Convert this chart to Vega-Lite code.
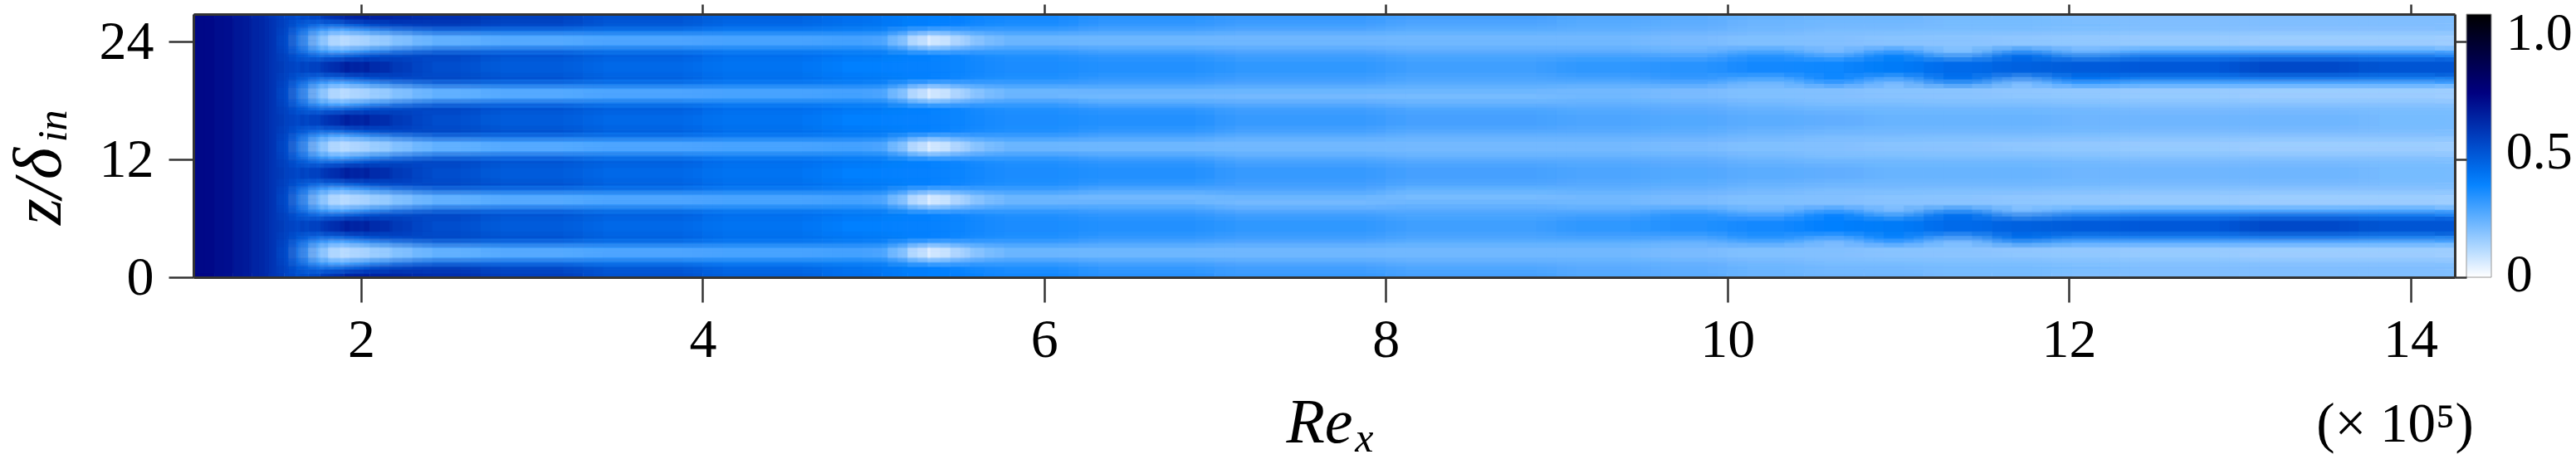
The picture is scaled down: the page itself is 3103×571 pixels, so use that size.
{"$schema":"https://vega.github.io/schema/vega-lite/v6.json","autosize":"none","width":2724,"height":317,"padding":{"left":233,"top":17,"right":146,"bottom":237},"background":"white","config":{"view":{"stroke":null},"axis":{"grid":false,"labelFont":"Liberation Serif","titleFont":"Liberation Serif","labelColor":"black","titleColor":"black","tickColor":"#333333","domainColor":"#333333","domainWidth":3,"tickWidth":2.5}},
"datasets":{
"cols":[{"c":0,"x0":1.018,"x1":1.14},{"c":1,"x0":1.14,"x1":1.25},{"c":2,"x0":1.25,"x1":1.36},{"c":3,"x0":1.36,"x1":1.46},{"c":4,"x0":1.46,"x1":1.55},{"c":5,"x0":1.55,"x1":1.62},{"c":6,"x0":1.62,"x1":1.69},{"c":7,"x0":1.69,"x1":1.76},{"c":8,"x0":1.76,"x1":1.9},{"c":9,"x0":1.9,"x1":2.05},{"c":10,"x0":2.05,"x1":2.3},{"c":11,"x0":2.3,"x1":2.7},{"c":12,"x0":2.7,"x1":3.3},{"c":13,"x0":3.3,"x1":4},{"c":14,"x0":4,"x1":4.7},{"c":15,"x0":4.7,"x1":5.05},{"c":16,"x0":5.05,"x1":5.2},{"c":17,"x0":5.2,"x1":5.45},{"c":18,"x0":5.45,"x1":5.65},{"c":19,"x0":5.65,"x1":6.2},{"c":20,"x0":6.2,"x1":7},{"c":21,"x0":7,"x1":8},{"c":22,"x0":8,"x1":9},{"c":23,"x0":9,"x1":9.55},{"c":24,"x0":9.55,"x1":10},{"c":25,"x0":10,"x1":10.45},{"c":26,"x0":10.45,"x1":10.8},{"c":27,"x0":10.8,"x1":11.15},{"c":28,"x0":11.15,"x1":11.55},{"c":29,"x0":11.55,"x1":11.9},{"c":30,"x0":11.9,"x1":12.3},{"c":31,"x0":12.3,"x1":13},{"c":32,"x0":13,"x1":13.7},{"c":33,"x0":13.7,"x1":14.26}],
"rows":[{"r":0,"z0":0,"z1":0.8},{"r":1,"z0":0.8,"z1":1.5},{"r":2,"z0":1.5,"z1":2.05},{"r":3,"z0":2.05,"z1":2.95},{"r":4,"z0":2.95,"z1":3.5},{"r":5,"z0":3.5,"z1":4.2},{"r":6,"z0":4.2,"z1":6.2},{"r":7,"z0":6.2,"z1":6.9},{"r":8,"z0":6.9,"z1":7.45},{"r":9,"z0":7.45,"z1":8.35},{"r":10,"z0":8.35,"z1":8.9},{"r":11,"z0":8.9,"z1":9.6},{"r":12,"z0":9.6,"z1":11.6},{"r":13,"z0":11.6,"z1":12.3},{"r":14,"z0":12.3,"z1":12.85},{"r":15,"z0":12.85,"z1":13.75},{"r":16,"z0":13.75,"z1":14.3},{"r":17,"z0":14.3,"z1":15},{"r":18,"z0":15,"z1":17},{"r":19,"z0":17,"z1":17.7},{"r":20,"z0":17.7,"z1":18.25},{"r":21,"z0":18.25,"z1":19.15},{"r":22,"z0":19.15,"z1":19.7},{"r":23,"z0":19.7,"z1":20.4},{"r":24,"z0":20.4,"z1":22.4},{"r":25,"z0":22.4,"z1":23.1},{"r":26,"z0":23.1,"z1":23.65},{"r":27,"z0":23.65,"z1":24.55},{"r":28,"z0":24.55,"z1":25.1},{"r":29,"z0":25.1,"z1":25.8},{"r":30,"z0":25.8,"z1":26.8},{"r":31,"z0":0,"z1":26.8}],
"cells":[{"c":0,"r":31,"v":0.69},{"c":1,"r":31,"v":0.66},{"c":2,"r":31,"v":0.63},{"c":3,"r":31,"v":0.6},{"c":4,"r":31,"v":0.55},{"c":5,"r":31,"v":0.5},
{"c":6,"r":0,"v":0.46},{"c":6,"r":1,"v":0.42},{"c":6,"r":2,"v":0.38},{"c":6,"r":3,"v":0.36},{"c":6,"r":4,"v":0.38},{"c":6,"r":5,"v":0.42},{"c":6,"r":6,"v":0.48},{"c":6,"r":7,"v":0.42},{"c":6,"r":8,"v":0.38},{"c":6,"r":9,"v":0.36},{"c":6,"r":10,"v":0.38},{"c":6,"r":11,"v":0.42},{"c":6,"r":12,"v":0.48},{"c":6,"r":13,"v":0.42},{"c":6,"r":14,"v":0.38},{"c":6,"r":15,"v":0.36},{"c":6,"r":16,"v":0.38},{"c":6,"r":17,"v":0.42},{"c":6,"r":18,"v":0.48},{"c":6,"r":19,"v":0.42},{"c":6,"r":20,"v":0.38},{"c":6,"r":21,"v":0.36},{"c":6,"r":22,"v":0.38},{"c":6,"r":23,"v":0.42},{"c":6,"r":24,"v":0.48},{"c":6,"r":25,"v":0.42},{"c":6,"r":26,"v":0.38},{"c":6,"r":27,"v":0.36},{"c":6,"r":28,"v":0.38},{"c":6,"r":29,"v":0.42},{"c":6,"r":30,"v":0.46},
{"c":7,"r":0,"v":0.48},{"c":7,"r":1,"v":0.34},{"c":7,"r":2,"v":0.2},{"c":7,"r":3,"v":0.14},{"c":7,"r":4,"v":0.2},{"c":7,"r":5,"v":0.34},{"c":7,"r":6,"v":0.5},{"c":7,"r":7,"v":0.34},{"c":7,"r":8,"v":0.2},{"c":7,"r":9,"v":0.14},{"c":7,"r":10,"v":0.2},{"c":7,"r":11,"v":0.34},{"c":7,"r":12,"v":0.5},{"c":7,"r":13,"v":0.34},{"c":7,"r":14,"v":0.2},{"c":7,"r":15,"v":0.14},{"c":7,"r":16,"v":0.2},{"c":7,"r":17,"v":0.34},{"c":7,"r":18,"v":0.5},{"c":7,"r":19,"v":0.34},{"c":7,"r":20,"v":0.2},{"c":7,"r":21,"v":0.14},{"c":7,"r":22,"v":0.2},{"c":7,"r":23,"v":0.34},{"c":7,"r":24,"v":0.5},{"c":7,"r":25,"v":0.34},{"c":7,"r":26,"v":0.2},{"c":7,"r":27,"v":0.14},{"c":7,"r":28,"v":0.2},{"c":7,"r":29,"v":0.34},{"c":7,"r":30,"v":0.48},
{"c":8,"r":0,"v":0.56},{"c":8,"r":1,"v":0.28},{"c":8,"r":2,"v":0.11},{"c":8,"r":3,"v":0.08},{"c":8,"r":4,"v":0.11},{"c":8,"r":5,"v":0.28},{"c":8,"r":6,"v":0.57},{"c":8,"r":7,"v":0.28},{"c":8,"r":8,"v":0.11},{"c":8,"r":9,"v":0.08},{"c":8,"r":10,"v":0.11},{"c":8,"r":11,"v":0.28},{"c":8,"r":12,"v":0.57},{"c":8,"r":13,"v":0.28},{"c":8,"r":14,"v":0.11},{"c":8,"r":15,"v":0.08},{"c":8,"r":16,"v":0.11},{"c":8,"r":17,"v":0.28},{"c":8,"r":18,"v":0.57},{"c":8,"r":19,"v":0.28},{"c":8,"r":20,"v":0.11},{"c":8,"r":21,"v":0.08},{"c":8,"r":22,"v":0.11},{"c":8,"r":23,"v":0.28},{"c":8,"r":24,"v":0.57},{"c":8,"r":25,"v":0.28},{"c":8,"r":26,"v":0.11},{"c":8,"r":27,"v":0.08},{"c":8,"r":28,"v":0.11},{"c":8,"r":29,"v":0.28},{"c":8,"r":30,"v":0.56},
{"c":9,"r":0,"v":0.62},{"c":9,"r":1,"v":0.36},{"c":9,"r":2,"v":0.13},{"c":9,"r":3,"v":0.09},{"c":9,"r":4,"v":0.13},{"c":9,"r":5,"v":0.36},{"c":9,"r":6,"v":0.63},{"c":9,"r":7,"v":0.36},{"c":9,"r":8,"v":0.13},{"c":9,"r":9,"v":0.09},{"c":9,"r":10,"v":0.13},{"c":9,"r":11,"v":0.36},{"c":9,"r":12,"v":0.63},{"c":9,"r":13,"v":0.36},{"c":9,"r":14,"v":0.13},{"c":9,"r":15,"v":0.09},{"c":9,"r":16,"v":0.13},{"c":9,"r":17,"v":0.36},{"c":9,"r":18,"v":0.63},{"c":9,"r":19,"v":0.36},{"c":9,"r":20,"v":0.13},{"c":9,"r":21,"v":0.09},{"c":9,"r":22,"v":0.13},{"c":9,"r":23,"v":0.36},{"c":9,"r":24,"v":0.63},{"c":9,"r":25,"v":0.36},{"c":9,"r":26,"v":0.13},{"c":9,"r":27,"v":0.09},{"c":9,"r":28,"v":0.13},{"c":9,"r":29,"v":0.36},{"c":9,"r":30,"v":0.62},
{"c":10,"r":0,"v":0.6},{"c":10,"r":1,"v":0.47},{"c":10,"r":2,"v":0.2},{"c":10,"r":3,"v":0.14},{"c":10,"r":4,"v":0.2},{"c":10,"r":5,"v":0.47},{"c":10,"r":6,"v":0.56},{"c":10,"r":7,"v":0.47},{"c":10,"r":8,"v":0.2},{"c":10,"r":9,"v":0.14},{"c":10,"r":10,"v":0.2},{"c":10,"r":11,"v":0.47},{"c":10,"r":12,"v":0.56},{"c":10,"r":13,"v":0.47},{"c":10,"r":14,"v":0.2},{"c":10,"r":15,"v":0.14},{"c":10,"r":16,"v":0.2},{"c":10,"r":17,"v":0.47},{"c":10,"r":18,"v":0.56},{"c":10,"r":19,"v":0.47},{"c":10,"r":20,"v":0.2},{"c":10,"r":21,"v":0.14},{"c":10,"r":22,"v":0.2},{"c":10,"r":23,"v":0.47},{"c":10,"r":24,"v":0.56},{"c":10,"r":25,"v":0.47},{"c":10,"r":26,"v":0.2},{"c":10,"r":27,"v":0.14},{"c":10,"r":28,"v":0.2},{"c":10,"r":29,"v":0.47},{"c":10,"r":30,"v":0.6},
{"c":11,"r":0,"v":0.57},{"c":11,"r":1,"v":0.52},{"c":11,"r":2,"v":0.28},{"c":11,"r":3,"v":0.19},{"c":11,"r":4,"v":0.28},{"c":11,"r":5,"v":0.52},{"c":11,"r":6,"v":0.49},{"c":11,"r":7,"v":0.52},{"c":11,"r":8,"v":0.28},{"c":11,"r":9,"v":0.19},{"c":11,"r":10,"v":0.28},{"c":11,"r":11,"v":0.52},{"c":11,"r":12,"v":0.49},{"c":11,"r":13,"v":0.52},{"c":11,"r":14,"v":0.28},{"c":11,"r":15,"v":0.19},{"c":11,"r":16,"v":0.28},{"c":11,"r":17,"v":0.52},{"c":11,"r":18,"v":0.49},{"c":11,"r":19,"v":0.52},{"c":11,"r":20,"v":0.28},{"c":11,"r":21,"v":0.19},{"c":11,"r":22,"v":0.28},{"c":11,"r":23,"v":0.52},{"c":11,"r":24,"v":0.49},{"c":11,"r":25,"v":0.52},{"c":11,"r":26,"v":0.28},{"c":11,"r":27,"v":0.19},{"c":11,"r":28,"v":0.28},{"c":11,"r":29,"v":0.52},{"c":11,"r":30,"v":0.57},
{"c":12,"r":0,"v":0.53},{"c":12,"r":1,"v":0.49},{"c":12,"r":2,"v":0.3},{"c":12,"r":3,"v":0.21},{"c":12,"r":4,"v":0.3},{"c":12,"r":5,"v":0.49},{"c":12,"r":6,"v":0.45},{"c":12,"r":7,"v":0.49},{"c":12,"r":8,"v":0.3},{"c":12,"r":9,"v":0.21},{"c":12,"r":10,"v":0.3},{"c":12,"r":11,"v":0.49},{"c":12,"r":12,"v":0.45},{"c":12,"r":13,"v":0.49},{"c":12,"r":14,"v":0.3},{"c":12,"r":15,"v":0.21},{"c":12,"r":16,"v":0.3},{"c":12,"r":17,"v":0.49},{"c":12,"r":18,"v":0.45},{"c":12,"r":19,"v":0.49},{"c":12,"r":20,"v":0.3},{"c":12,"r":21,"v":0.21},{"c":12,"r":22,"v":0.3},{"c":12,"r":23,"v":0.49},{"c":12,"r":24,"v":0.45},{"c":12,"r":25,"v":0.49},{"c":12,"r":26,"v":0.3},{"c":12,"r":27,"v":0.21},{"c":12,"r":28,"v":0.3},{"c":12,"r":29,"v":0.49},{"c":12,"r":30,"v":0.53},
{"c":13,"r":0,"v":0.48},{"c":13,"r":1,"v":0.45},{"c":13,"r":2,"v":0.31},{"c":13,"r":3,"v":0.22},{"c":13,"r":4,"v":0.31},{"c":13,"r":5,"v":0.45},{"c":13,"r":6,"v":0.42},{"c":13,"r":7,"v":0.45},{"c":13,"r":8,"v":0.31},{"c":13,"r":9,"v":0.22},{"c":13,"r":10,"v":0.31},{"c":13,"r":11,"v":0.45},{"c":13,"r":12,"v":0.42},{"c":13,"r":13,"v":0.45},{"c":13,"r":14,"v":0.31},{"c":13,"r":15,"v":0.22},{"c":13,"r":16,"v":0.31},{"c":13,"r":17,"v":0.45},{"c":13,"r":18,"v":0.42},{"c":13,"r":19,"v":0.45},{"c":13,"r":20,"v":0.31},{"c":13,"r":21,"v":0.22},{"c":13,"r":22,"v":0.31},{"c":13,"r":23,"v":0.45},{"c":13,"r":24,"v":0.42},{"c":13,"r":25,"v":0.45},{"c":13,"r":26,"v":0.31},{"c":13,"r":27,"v":0.22},{"c":13,"r":28,"v":0.31},{"c":13,"r":29,"v":0.45},{"c":13,"r":30,"v":0.48},
{"c":14,"r":0,"v":0.44},{"c":14,"r":1,"v":0.41},{"c":14,"r":2,"v":0.31},{"c":14,"r":3,"v":0.23},{"c":14,"r":4,"v":0.31},{"c":14,"r":5,"v":0.41},{"c":14,"r":6,"v":0.39},{"c":14,"r":7,"v":0.41},{"c":14,"r":8,"v":0.31},{"c":14,"r":9,"v":0.23},{"c":14,"r":10,"v":0.31},{"c":14,"r":11,"v":0.41},{"c":14,"r":12,"v":0.39},{"c":14,"r":13,"v":0.41},{"c":14,"r":14,"v":0.31},{"c":14,"r":15,"v":0.23},{"c":14,"r":16,"v":0.31},{"c":14,"r":17,"v":0.41},{"c":14,"r":18,"v":0.39},{"c":14,"r":19,"v":0.41},{"c":14,"r":20,"v":0.31},{"c":14,"r":21,"v":0.23},{"c":14,"r":22,"v":0.31},{"c":14,"r":23,"v":0.41},{"c":14,"r":24,"v":0.39},{"c":14,"r":25,"v":0.41},{"c":14,"r":26,"v":0.31},{"c":14,"r":27,"v":0.23},{"c":14,"r":28,"v":0.31},{"c":14,"r":29,"v":0.41},{"c":14,"r":30,"v":0.44},
{"c":15,"r":0,"v":0.4},{"c":15,"r":1,"v":0.39},{"c":15,"r":2,"v":0.31},{"c":15,"r":3,"v":0.24},{"c":15,"r":4,"v":0.31},{"c":15,"r":5,"v":0.39},{"c":15,"r":6,"v":0.36},{"c":15,"r":7,"v":0.39},{"c":15,"r":8,"v":0.31},{"c":15,"r":9,"v":0.24},{"c":15,"r":10,"v":0.31},{"c":15,"r":11,"v":0.39},{"c":15,"r":12,"v":0.36},{"c":15,"r":13,"v":0.39},{"c":15,"r":14,"v":0.31},{"c":15,"r":15,"v":0.24},{"c":15,"r":16,"v":0.31},{"c":15,"r":17,"v":0.39},{"c":15,"r":18,"v":0.36},{"c":15,"r":19,"v":0.39},{"c":15,"r":20,"v":0.31},{"c":15,"r":21,"v":0.24},{"c":15,"r":22,"v":0.31},{"c":15,"r":23,"v":0.39},{"c":15,"r":24,"v":0.36},{"c":15,"r":25,"v":0.39},{"c":15,"r":26,"v":0.31},{"c":15,"r":27,"v":0.24},{"c":15,"r":28,"v":0.31},{"c":15,"r":29,"v":0.39},{"c":15,"r":30,"v":0.4},
{"c":16,"r":0,"v":0.37},{"c":16,"r":1,"v":0.37},{"c":16,"r":2,"v":0.29},{"c":16,"r":3,"v":0.21},{"c":16,"r":4,"v":0.29},{"c":16,"r":5,"v":0.37},{"c":16,"r":6,"v":0.35},{"c":16,"r":7,"v":0.37},{"c":16,"r":8,"v":0.29},{"c":16,"r":9,"v":0.21},{"c":16,"r":10,"v":0.29},{"c":16,"r":11,"v":0.37},{"c":16,"r":12,"v":0.35},{"c":16,"r":13,"v":0.37},{"c":16,"r":14,"v":0.29},{"c":16,"r":15,"v":0.21},{"c":16,"r":16,"v":0.29},{"c":16,"r":17,"v":0.37},{"c":16,"r":18,"v":0.35},{"c":16,"r":19,"v":0.37},{"c":16,"r":20,"v":0.29},{"c":16,"r":21,"v":0.21},{"c":16,"r":22,"v":0.29},{"c":16,"r":23,"v":0.37},{"c":16,"r":24,"v":0.35},{"c":16,"r":25,"v":0.37},{"c":16,"r":26,"v":0.29},{"c":16,"r":27,"v":0.21},{"c":16,"r":28,"v":0.29},{"c":16,"r":29,"v":0.37},{"c":16,"r":30,"v":0.37},
{"c":17,"r":0,"v":0.36},{"c":17,"r":1,"v":0.36},{"c":17,"r":2,"v":0.11},{"c":17,"r":3,"v":0.01},{"c":17,"r":4,"v":0.11},{"c":17,"r":5,"v":0.36},{"c":17,"r":6,"v":0.35},{"c":17,"r":7,"v":0.36},{"c":17,"r":8,"v":0.11},{"c":17,"r":9,"v":0.01},{"c":17,"r":10,"v":0.11},{"c":17,"r":11,"v":0.36},{"c":17,"r":12,"v":0.35},{"c":17,"r":13,"v":0.36},{"c":17,"r":14,"v":0.11},{"c":17,"r":15,"v":0.01},{"c":17,"r":16,"v":0.11},{"c":17,"r":17,"v":0.36},{"c":17,"r":18,"v":0.35},{"c":17,"r":19,"v":0.36},{"c":17,"r":20,"v":0.11},{"c":17,"r":21,"v":0.01},{"c":17,"r":22,"v":0.11},{"c":17,"r":23,"v":0.36},{"c":17,"r":24,"v":0.35},{"c":17,"r":25,"v":0.36},{"c":17,"r":26,"v":0.11},{"c":17,"r":27,"v":0.01},{"c":17,"r":28,"v":0.11},{"c":17,"r":29,"v":0.36},{"c":17,"r":30,"v":0.36},
{"c":18,"r":0,"v":0.35},{"c":18,"r":1,"v":0.33},{"c":18,"r":2,"v":0.2},{"c":18,"r":3,"v":0.12},{"c":18,"r":4,"v":0.2},{"c":18,"r":5,"v":0.33},{"c":18,"r":6,"v":0.34},{"c":18,"r":7,"v":0.33},{"c":18,"r":8,"v":0.2},{"c":18,"r":9,"v":0.12},{"c":18,"r":10,"v":0.2},{"c":18,"r":11,"v":0.33},{"c":18,"r":12,"v":0.34},{"c":18,"r":13,"v":0.33},{"c":18,"r":14,"v":0.2},{"c":18,"r":15,"v":0.12},{"c":18,"r":16,"v":0.2},{"c":18,"r":17,"v":0.33},{"c":18,"r":18,"v":0.34},{"c":18,"r":19,"v":0.33},{"c":18,"r":20,"v":0.2},{"c":18,"r":21,"v":0.12},{"c":18,"r":22,"v":0.2},{"c":18,"r":23,"v":0.33},{"c":18,"r":24,"v":0.34},{"c":18,"r":25,"v":0.33},{"c":18,"r":26,"v":0.2},{"c":18,"r":27,"v":0.12},{"c":18,"r":28,"v":0.2},{"c":18,"r":29,"v":0.33},{"c":18,"r":30,"v":0.35},
{"c":19,"r":0,"v":0.33},{"c":19,"r":1,"v":0.31},{"c":19,"r":2,"v":0.24},{"c":19,"r":3,"v":0.19},{"c":19,"r":4,"v":0.24},{"c":19,"r":5,"v":0.31},{"c":19,"r":6,"v":0.32},{"c":19,"r":7,"v":0.31},{"c":19,"r":8,"v":0.24},{"c":19,"r":9,"v":0.19},{"c":19,"r":10,"v":0.24},{"c":19,"r":11,"v":0.31},{"c":19,"r":12,"v":0.32},{"c":19,"r":13,"v":0.31},{"c":19,"r":14,"v":0.24},{"c":19,"r":15,"v":0.19},{"c":19,"r":16,"v":0.24},{"c":19,"r":17,"v":0.31},{"c":19,"r":18,"v":0.32},{"c":19,"r":19,"v":0.31},{"c":19,"r":20,"v":0.24},{"c":19,"r":21,"v":0.19},{"c":19,"r":22,"v":0.24},{"c":19,"r":23,"v":0.31},{"c":19,"r":24,"v":0.32},{"c":19,"r":25,"v":0.31},{"c":19,"r":26,"v":0.24},{"c":19,"r":27,"v":0.19},{"c":19,"r":28,"v":0.24},{"c":19,"r":29,"v":0.31},{"c":19,"r":30,"v":0.33},
{"c":20,"r":0,"v":0.3},{"c":20,"r":1,"v":0.28},{"c":20,"r":2,"v":0.23},{"c":20,"r":3,"v":0.19},{"c":20,"r":4,"v":0.23},{"c":20,"r":5,"v":0.28},{"c":20,"r":6,"v":0.31},{"c":20,"r":7,"v":0.28},{"c":20,"r":8,"v":0.25},{"c":20,"r":9,"v":0.19},{"c":20,"r":10,"v":0.21},{"c":20,"r":11,"v":0.28},{"c":20,"r":12,"v":0.31},{"c":20,"r":13,"v":0.28},{"c":20,"r":14,"v":0.23},{"c":20,"r":15,"v":0.19},{"c":20,"r":16,"v":0.23},{"c":20,"r":17,"v":0.28},{"c":20,"r":18,"v":0.31},{"c":20,"r":19,"v":0.28},{"c":20,"r":20,"v":0.21},{"c":20,"r":21,"v":0.19},{"c":20,"r":22,"v":0.25},{"c":20,"r":23,"v":0.28},{"c":20,"r":24,"v":0.31},{"c":20,"r":25,"v":0.28},{"c":20,"r":26,"v":0.23},{"c":20,"r":27,"v":0.19},{"c":20,"r":28,"v":0.23},{"c":20,"r":29,"v":0.28},{"c":20,"r":30,"v":0.3},
{"c":21,"r":0,"v":0.28},{"c":21,"r":1,"v":0.26},{"c":21,"r":2,"v":0.22},{"c":21,"r":3,"v":0.19},{"c":21,"r":4,"v":0.22},{"c":21,"r":5,"v":0.26},{"c":21,"r":6,"v":0.29},{"c":21,"r":7,"v":0.26},{"c":21,"r":8,"v":0.2},{"c":21,"r":9,"v":0.19},{"c":21,"r":10,"v":0.24},{"c":21,"r":11,"v":0.26},{"c":21,"r":12,"v":0.28},{"c":21,"r":13,"v":0.25},{"c":21,"r":14,"v":0.21},{"c":21,"r":15,"v":0.19},{"c":21,"r":16,"v":0.21},{"c":21,"r":17,"v":0.25},{"c":21,"r":18,"v":0.28},{"c":21,"r":19,"v":0.26},{"c":21,"r":20,"v":0.2},{"c":21,"r":21,"v":0.19},{"c":21,"r":22,"v":0.24},{"c":21,"r":23,"v":0.26},{"c":21,"r":24,"v":0.29},{"c":21,"r":25,"v":0.26},{"c":21,"r":26,"v":0.22},{"c":21,"r":27,"v":0.19},{"c":21,"r":28,"v":0.22},{"c":21,"r":29,"v":0.26},{"c":21,"r":30,"v":0.28},
{"c":22,"r":0,"v":0.26},{"c":22,"r":1,"v":0.24},{"c":22,"r":2,"v":0.21},{"c":22,"r":3,"v":0.19},{"c":22,"r":4,"v":0.21},{"c":22,"r":5,"v":0.24},{"c":22,"r":6,"v":0.27},{"c":22,"r":7,"v":0.24},{"c":22,"r":8,"v":0.23},{"c":22,"r":9,"v":0.19},{"c":22,"r":10,"v":0.19},{"c":22,"r":11,"v":0.24},{"c":22,"r":12,"v":0.26},{"c":22,"r":13,"v":0.23},{"c":22,"r":14,"v":0.2},{"c":22,"r":15,"v":0.19},{"c":22,"r":16,"v":0.2},{"c":22,"r":17,"v":0.23},{"c":22,"r":18,"v":0.26},{"c":22,"r":19,"v":0.24},{"c":22,"r":20,"v":0.19},{"c":22,"r":21,"v":0.19},{"c":22,"r":22,"v":0.23},{"c":22,"r":23,"v":0.24},{"c":22,"r":24,"v":0.27},{"c":22,"r":25,"v":0.24},{"c":22,"r":26,"v":0.21},{"c":22,"r":27,"v":0.19},{"c":22,"r":28,"v":0.21},{"c":22,"r":29,"v":0.24},{"c":22,"r":30,"v":0.26},
{"c":23,"r":0,"v":0.24},{"c":23,"r":1,"v":0.23},{"c":23,"r":2,"v":0.21},{"c":23,"r":3,"v":0.19},{"c":23,"r":4,"v":0.21},{"c":23,"r":5,"v":0.24},{"c":23,"r":6,"v":0.29},{"c":23,"r":7,"v":0.25},{"c":23,"r":8,"v":0.21},{"c":23,"r":9,"v":0.19},{"c":23,"r":10,"v":0.21},{"c":23,"r":11,"v":0.23},{"c":23,"r":12,"v":0.25},{"c":23,"r":13,"v":0.23},{"c":23,"r":14,"v":0.2},{"c":23,"r":15,"v":0.19},{"c":23,"r":16,"v":0.2},{"c":23,"r":17,"v":0.23},{"c":23,"r":18,"v":0.25},{"c":23,"r":19,"v":0.23},{"c":23,"r":20,"v":0.21},{"c":23,"r":21,"v":0.19},{"c":23,"r":22,"v":0.21},{"c":23,"r":23,"v":0.25},{"c":23,"r":24,"v":0.29},{"c":23,"r":25,"v":0.24},{"c":23,"r":26,"v":0.21},{"c":23,"r":27,"v":0.19},{"c":23,"r":28,"v":0.21},{"c":23,"r":29,"v":0.23},{"c":23,"r":30,"v":0.24},
{"c":24,"r":0,"v":0.23},{"c":24,"r":1,"v":0.22},{"c":24,"r":2,"v":0.2},{"c":24,"r":3,"v":0.18},{"c":24,"r":4,"v":0.2},{"c":24,"r":5,"v":0.23},{"c":24,"r":6,"v":0.31},{"c":24,"r":7,"v":0.29},{"c":24,"r":8,"v":0.2},{"c":24,"r":9,"v":0.18},{"c":24,"r":10,"v":0.2},{"c":24,"r":11,"v":0.22},{"c":24,"r":12,"v":0.24},{"c":24,"r":13,"v":0.22},{"c":24,"r":14,"v":0.2},{"c":24,"r":15,"v":0.18},{"c":24,"r":16,"v":0.2},{"c":24,"r":17,"v":0.22},{"c":24,"r":18,"v":0.24},{"c":24,"r":19,"v":0.22},{"c":24,"r":20,"v":0.2},{"c":24,"r":21,"v":0.18},{"c":24,"r":22,"v":0.2},{"c":24,"r":23,"v":0.28},{"c":24,"r":24,"v":0.3},{"c":24,"r":25,"v":0.22},{"c":24,"r":26,"v":0.2},{"c":24,"r":27,"v":0.18},{"c":24,"r":28,"v":0.2},{"c":24,"r":29,"v":0.22},{"c":24,"r":30,"v":0.23},
{"c":25,"r":0,"v":0.21},{"c":25,"r":1,"v":0.2},{"c":25,"r":2,"v":0.19},{"c":25,"r":3,"v":0.17},{"c":25,"r":4,"v":0.19},{"c":25,"r":5,"v":0.29},{"c":25,"r":6,"v":0.33},{"c":25,"r":7,"v":0.22},{"c":25,"r":8,"v":0.19},{"c":25,"r":9,"v":0.17},{"c":25,"r":10,"v":0.19},{"c":25,"r":11,"v":0.2},{"c":25,"r":12,"v":0.23},{"c":25,"r":13,"v":0.2},{"c":25,"r":14,"v":0.19},{"c":25,"r":15,"v":0.17},{"c":25,"r":16,"v":0.19},{"c":25,"r":17,"v":0.2},{"c":25,"r":18,"v":0.23},{"c":25,"r":19,"v":0.2},{"c":25,"r":20,"v":0.19},{"c":25,"r":21,"v":0.17},{"c":25,"r":22,"v":0.19},{"c":25,"r":23,"v":0.21},{"c":25,"r":24,"v":0.33},{"c":25,"r":25,"v":0.29},{"c":25,"r":26,"v":0.19},{"c":25,"r":27,"v":0.17},{"c":25,"r":28,"v":0.19},{"c":25,"r":29,"v":0.2},{"c":25,"r":30,"v":0.21},
{"c":26,"r":0,"v":0.2},{"c":26,"r":1,"v":0.19},{"c":26,"r":2,"v":0.18},{"c":26,"r":3,"v":0.17},{"c":26,"r":4,"v":0.18},{"c":26,"r":5,"v":0.2},{"c":26,"r":6,"v":0.36},{"c":26,"r":7,"v":0.34},{"c":26,"r":8,"v":0.18},{"c":26,"r":9,"v":0.17},{"c":26,"r":10,"v":0.18},{"c":26,"r":11,"v":0.19},{"c":26,"r":12,"v":0.22},{"c":26,"r":13,"v":0.19},{"c":26,"r":14,"v":0.18},{"c":26,"r":15,"v":0.17},{"c":26,"r":16,"v":0.18},{"c":26,"r":17,"v":0.19},{"c":26,"r":18,"v":0.22},{"c":26,"r":19,"v":0.19},{"c":26,"r":20,"v":0.18},{"c":26,"r":21,"v":0.17},{"c":26,"r":22,"v":0.18},{"c":26,"r":23,"v":0.34},{"c":26,"r":24,"v":0.34},{"c":26,"r":25,"v":0.2},{"c":26,"r":26,"v":0.18},{"c":26,"r":27,"v":0.17},{"c":26,"r":28,"v":0.18},{"c":26,"r":29,"v":0.19},{"c":26,"r":30,"v":0.2},
{"c":27,"r":0,"v":0.2},{"c":27,"r":1,"v":0.19},{"c":27,"r":2,"v":0.18},{"c":27,"r":3,"v":0.16},{"c":27,"r":4,"v":0.18},{"c":27,"r":5,"v":0.34},{"c":27,"r":6,"v":0.37},{"c":27,"r":7,"v":0.2},{"c":27,"r":8,"v":0.18},{"c":27,"r":9,"v":0.16},{"c":27,"r":10,"v":0.18},{"c":27,"r":11,"v":0.19},{"c":27,"r":12,"v":0.21},{"c":27,"r":13,"v":0.19},{"c":27,"r":14,"v":0.18},{"c":27,"r":15,"v":0.16},{"c":27,"r":16,"v":0.18},{"c":27,"r":17,"v":0.19},{"c":27,"r":18,"v":0.21},{"c":27,"r":19,"v":0.19},{"c":27,"r":20,"v":0.18},{"c":27,"r":21,"v":0.16},{"c":27,"r":22,"v":0.18},{"c":27,"r":23,"v":0.2},{"c":27,"r":24,"v":0.37},{"c":27,"r":25,"v":0.34},{"c":27,"r":26,"v":0.18},{"c":27,"r":27,"v":0.16},{"c":27,"r":28,"v":0.18},{"c":27,"r":29,"v":0.19},{"c":27,"r":30,"v":0.2},
{"c":28,"r":0,"v":0.19},{"c":28,"r":1,"v":0.19},{"c":28,"r":2,"v":0.17},{"c":28,"r":3,"v":0.16},{"c":28,"r":4,"v":0.17},{"c":28,"r":5,"v":0.2},{"c":28,"r":6,"v":0.41},{"c":28,"r":7,"v":0.39},{"c":28,"r":8,"v":0.17},{"c":28,"r":9,"v":0.16},{"c":28,"r":10,"v":0.17},{"c":28,"r":11,"v":0.19},{"c":28,"r":12,"v":0.21},{"c":28,"r":13,"v":0.19},{"c":28,"r":14,"v":0.17},{"c":28,"r":15,"v":0.16},{"c":28,"r":16,"v":0.17},{"c":28,"r":17,"v":0.19},{"c":28,"r":18,"v":0.21},{"c":28,"r":19,"v":0.19},{"c":28,"r":20,"v":0.17},{"c":28,"r":21,"v":0.16},{"c":28,"r":22,"v":0.17},{"c":28,"r":23,"v":0.39},{"c":28,"r":24,"v":0.41},{"c":28,"r":25,"v":0.19},{"c":28,"r":26,"v":0.17},{"c":28,"r":27,"v":0.16},{"c":28,"r":28,"v":0.17},{"c":28,"r":29,"v":0.19},{"c":28,"r":30,"v":0.19},
{"c":29,"r":0,"v":0.19},{"c":29,"r":1,"v":0.19},{"c":29,"r":2,"v":0.17},{"c":29,"r":3,"v":0.15},{"c":29,"r":4,"v":0.17},{"c":29,"r":5,"v":0.39},{"c":29,"r":6,"v":0.44},{"c":29,"r":7,"v":0.2},{"c":29,"r":8,"v":0.17},{"c":29,"r":9,"v":0.15},{"c":29,"r":10,"v":0.17},{"c":29,"r":11,"v":0.19},{"c":29,"r":12,"v":0.21},{"c":29,"r":13,"v":0.19},{"c":29,"r":14,"v":0.17},{"c":29,"r":15,"v":0.15},{"c":29,"r":16,"v":0.17},{"c":29,"r":17,"v":0.19},{"c":29,"r":18,"v":0.21},{"c":29,"r":19,"v":0.19},{"c":29,"r":20,"v":0.17},{"c":29,"r":21,"v":0.15},{"c":29,"r":22,"v":0.17},{"c":29,"r":23,"v":0.2},{"c":29,"r":24,"v":0.44},{"c":29,"r":25,"v":0.39},{"c":29,"r":26,"v":0.17},{"c":29,"r":27,"v":0.15},{"c":29,"r":28,"v":0.17},{"c":29,"r":29,"v":0.19},{"c":29,"r":30,"v":0.19},
{"c":30,"r":0,"v":0.18},{"c":30,"r":1,"v":0.19},{"c":30,"r":2,"v":0.16},{"c":30,"r":3,"v":0.15},{"c":30,"r":4,"v":0.16},{"c":30,"r":5,"v":0.3},{"c":30,"r":6,"v":0.45},{"c":30,"r":7,"v":0.28},{"c":30,"r":8,"v":0.16},{"c":30,"r":9,"v":0.15},{"c":30,"r":10,"v":0.16},{"c":30,"r":11,"v":0.19},{"c":30,"r":12,"v":0.2},{"c":30,"r":13,"v":0.19},{"c":30,"r":14,"v":0.16},{"c":30,"r":15,"v":0.15},{"c":30,"r":16,"v":0.16},{"c":30,"r":17,"v":0.19},{"c":30,"r":18,"v":0.2},{"c":30,"r":19,"v":0.19},{"c":30,"r":20,"v":0.16},{"c":30,"r":21,"v":0.15},{"c":30,"r":22,"v":0.16},{"c":30,"r":23,"v":0.36},{"c":30,"r":24,"v":0.45},{"c":30,"r":25,"v":0.24},{"c":30,"r":26,"v":0.16},{"c":30,"r":27,"v":0.15},{"c":30,"r":28,"v":0.16},{"c":30,"r":29,"v":0.19},{"c":30,"r":30,"v":0.18},
{"c":31,"r":0,"v":0.18},{"c":31,"r":1,"v":0.18},{"c":31,"r":2,"v":0.16},{"c":31,"r":3,"v":0.14},{"c":31,"r":4,"v":0.16},{"c":31,"r":5,"v":0.3},{"c":31,"r":6,"v":0.46},{"c":31,"r":7,"v":0.3},{"c":31,"r":8,"v":0.16},{"c":31,"r":9,"v":0.14},{"c":31,"r":10,"v":0.16},{"c":31,"r":11,"v":0.18},{"c":31,"r":12,"v":0.2},{"c":31,"r":13,"v":0.18},{"c":31,"r":14,"v":0.16},{"c":31,"r":15,"v":0.14},{"c":31,"r":16,"v":0.16},{"c":31,"r":17,"v":0.18},{"c":31,"r":18,"v":0.2},{"c":31,"r":19,"v":0.18},{"c":31,"r":20,"v":0.16},{"c":31,"r":21,"v":0.14},{"c":31,"r":22,"v":0.16},{"c":31,"r":23,"v":0.31},{"c":31,"r":24,"v":0.46},{"c":31,"r":25,"v":0.3},{"c":31,"r":26,"v":0.16},{"c":31,"r":27,"v":0.14},{"c":31,"r":28,"v":0.16},{"c":31,"r":29,"v":0.18},{"c":31,"r":30,"v":0.18},
{"c":32,"r":0,"v":0.18},{"c":32,"r":1,"v":0.18},{"c":32,"r":2,"v":0.15},{"c":32,"r":3,"v":0.13},{"c":32,"r":4,"v":0.15},{"c":32,"r":5,"v":0.3},{"c":32,"r":6,"v":0.5},{"c":32,"r":7,"v":0.3},{"c":32,"r":8,"v":0.15},{"c":32,"r":9,"v":0.13},{"c":32,"r":10,"v":0.15},{"c":32,"r":11,"v":0.18},{"c":32,"r":12,"v":0.2},{"c":32,"r":13,"v":0.18},{"c":32,"r":14,"v":0.15},{"c":32,"r":15,"v":0.13},{"c":32,"r":16,"v":0.15},{"c":32,"r":17,"v":0.18},{"c":32,"r":18,"v":0.2},{"c":32,"r":19,"v":0.18},{"c":32,"r":20,"v":0.15},{"c":32,"r":21,"v":0.13},{"c":32,"r":22,"v":0.15},{"c":32,"r":23,"v":0.31},{"c":32,"r":24,"v":0.5},{"c":32,"r":25,"v":0.3},{"c":32,"r":26,"v":0.15},{"c":32,"r":27,"v":0.13},{"c":32,"r":28,"v":0.15},{"c":32,"r":29,"v":0.18},{"c":32,"r":30,"v":0.18},
{"c":33,"r":0,"v":0.18},{"c":33,"r":1,"v":0.18},{"c":33,"r":2,"v":0.15},{"c":33,"r":3,"v":0.13},{"c":33,"r":4,"v":0.15},{"c":33,"r":5,"v":0.29},{"c":33,"r":6,"v":0.47},{"c":33,"r":7,"v":0.31},{"c":33,"r":8,"v":0.15},{"c":33,"r":9,"v":0.13},{"c":33,"r":10,"v":0.15},{"c":33,"r":11,"v":0.18},{"c":33,"r":12,"v":0.19},{"c":33,"r":13,"v":0.18},{"c":33,"r":14,"v":0.15},{"c":33,"r":15,"v":0.13},{"c":33,"r":16,"v":0.15},{"c":33,"r":17,"v":0.18},{"c":33,"r":18,"v":0.19},{"c":33,"r":19,"v":0.18},{"c":33,"r":20,"v":0.15},{"c":33,"r":21,"v":0.13},{"c":33,"r":22,"v":0.15},{"c":33,"r":23,"v":0.31},{"c":33,"r":24,"v":0.47},{"c":33,"r":25,"v":0.3},{"c":33,"r":26,"v":0.15},{"c":33,"r":27,"v":0.13},{"c":33,"r":28,"v":0.15},{"c":33,"r":29,"v":0.18},{"c":33,"r":30,"v":0.18}],
"notes":[{"x":13.91,"z":-16.7,"t":"(× 10⁵)"}],
"cbar":[{"x":14.56,"z":23.15,"t":"1.0"},{"x":14.56,"z":11.07,"t":"0.5"},{"x":14.56,"z":-1.44,"t":"0"}],
"subs":[{"x":7.82,"z":-17.75,"t":"x"}],
"subsy":[{"x":0.274,"z":15.4,"t":"in"}]},
"resolve":{"axis":{"x":"independent","y":"independent"}},
"layer":[
{"data":{"name":"cells"},"transform":[{"lookup":"c","from":{"data":{"name":"cols"},"key":"c","fields":["x0","x1"]}},{"lookup":"r","from":{"data":{"name":"rows"},"key":"r","fields":["z0","z1"]}}],
"encoding":{
"x":{"field":"x0","type":"quantitative","scale":{"domain":[1.018,14.26],"nice":false,"zero":false},"axis":{"values":[2,4,6,8,10,12,14],"tickSize":30,"labelFontSize":66,"labelPadding":13,"title":"Re","titleFontSize":76,"titleFontStyle":"italic","titleFontWeight":"normal","titleX":1356,"titleY":198,"titleBaseline":"alphabetic","titleAlign":"center","zindex":1}},
"x2":{"field":"x1"},
"y":{"field":"z0","type":"quantitative","scale":{"domain":[0,26.8],"nice":false,"zero":false},"axis":{"values":[0,12,24],"tickSize":30,"labelFontSize":66,"labelPadding":18,"title":"z/δ","titleFontSize":82,"titleFontStyle":"italic","titleFontWeight":"normal","titleX":-161,"titleY":207,"titleBaseline":"alphabetic","titleAlign":"center","titleAngle":270,"zindex":1}},
"y2":{"field":"z1"},
"color":{"field":"v","type":"quantitative","scale":{"domain":[0,0.36,0.7,1],"range":["#ffffff","#0080ff","#000080","#000000"],"interpolate":"rgb"},"legend":{"orient":"none","legendX":2738,"legendY":0,"title":null,"gradientLength":317,"gradientThickness":30,"gradientStrokeColor":"#999999","gradientStrokeWidth":1,"gradientOpacity":1,"labelFontSize":1,"labelExpr":"''","encoding":{"gradient":{"update":{"opacity":{"value":1}}}}}}},
"layer":[
{"mark":{"type":"rect","clip":true}},
{"mark":{"type":"rect","clip":true,"opacity":0.5,"xOffset":-24,"x2Offset":-24,"yOffset":-5,"y2Offset":-5}},
{"mark":{"type":"rect","clip":true,"opacity":0.333,"xOffset":24,"x2Offset":24,"yOffset":5,"y2Offset":5}},
{"mark":{"type":"rect","clip":true,"opacity":0.25,"xOffset":-24,"x2Offset":-24,"yOffset":5,"y2Offset":5}},
{"mark":{"type":"rect","clip":true,"opacity":0.2,"xOffset":24,"x2Offset":24,"yOffset":-5,"y2Offset":-5}},
{"mark":{"type":"rect","clip":true,"opacity":0.167,"xOffset":-12,"x2Offset":-12}},
{"mark":{"type":"rect","clip":true,"opacity":0.143,"xOffset":12,"x2Offset":12}},
{"mark":{"type":"rect","clip":true,"opacity":0.125,"yOffset":-6,"y2Offset":-6}},
{"mark":{"type":"rect","clip":true,"opacity":0.111,"yOffset":6,"y2Offset":6}}
]},
{"data":{"name":"notes"},"mark":{"type":"text","font":"Liberation Serif","fontSize":67,"align":"center","baseline":"alphabetic","color":"black"},"encoding":{
"x":{"field":"x","type":"quantitative","scale":{"domain":[1.018,14.26],"nice":false,"zero":false},"axis":{"orient":"top","values":[2,4,6,8,10,12,14],"tickSize":12,"labels":false,"title":null,"zindex":1}},
"y":{"field":"z","type":"quantitative","scale":{"domain":[0,26.8],"nice":false,"zero":false},"axis":{"orient":"right","values":[0,12,24],"tickSize":14,"labels":false,"title":null,"zindex":1}},
"text":{"field":"t"}}},
{"data":{"name":"cbar"},"mark":{"type":"text","font":"Liberation Serif","fontSize":64,"align":"left","baseline":"alphabetic","color":"black"},"encoding":{"x":{"field":"x","type":"quantitative","axis":null},"y":{"field":"z","type":"quantitative","axis":null},"text":{"field":"t"}}},
{"data":{"name":"subs"},"mark":{"type":"text","font":"Liberation Serif","fontStyle":"italic","fontSize":50,"align":"left","baseline":"alphabetic","color":"black"},"encoding":{"x":{"field":"x","type":"quantitative","axis":null},"y":{"field":"z","type":"quantitative","axis":null},"text":{"field":"t"}}},
{"data":{"name":"subsy"},"mark":{"type":"text","font":"Liberation Serif","fontStyle":"italic","fontSize":50,"align":"center","baseline":"alphabetic","angle":270,"color":"black"},"encoding":{"x":{"field":"x","type":"quantitative","axis":null},"y":{"field":"z","type":"quantitative","axis":null},"text":{"field":"t"}}}
]}
